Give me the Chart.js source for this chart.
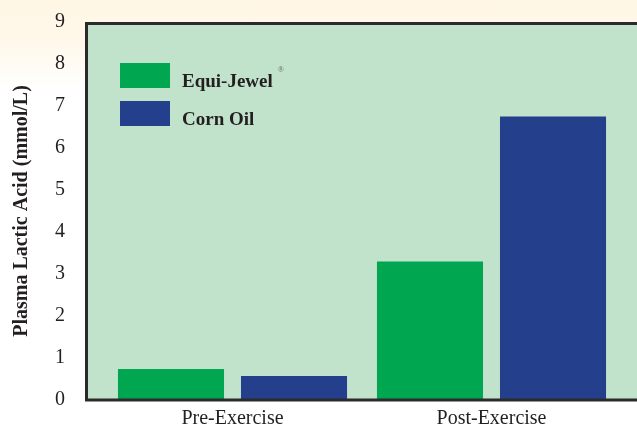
<!DOCTYPE html>
<html>
<head>
<meta charset="utf-8">
<script src="https://cdn.jsdelivr.net/npm/chart.js@4"></script>
<style>
  html, body { margin: 0; padding: 0; }
  body {
    width: 637px; height: 425px; overflow: hidden;
    background: linear-gradient(to bottom, #fff6e4 0px, #fff8ea 40px, #ffffff 90px);
  }
  canvas { display: block; }
</style>
</head>
<body>
<canvas id="myChart" width="637" height="425"></canvas>
<script>
// chart data
const categories = ['Pre-Exercise', 'Post-Exercise'];
const equiJewel = [0.74, 3.3];
const cornOil = [0.57, 6.75];
const seriesLabels = ['Equi-Jewel®', 'Corn Oil'];
const yTicks = [0, 1, 2, 3, 4, 5, 6, 7, 8, 9];

const textColor = '#231f20';
const serif = "'Liberation Serif', 'DejaVu Serif', serif";

// green panel + dark frame behind the bars
const panelPlugin = {
    id: 'panel',
    beforeDatasetsDraw(chart) {
        const c = chart.ctx;
        const area = chart.chartArea;
        const left = 85;
        const right = chart.width;
        c.save();
        c.fillStyle = '#c1e2cb';
        c.fillRect(left, area.top, right - left, area.bottom - area.top);
        c.restore();
    },
    afterDatasetsDraw(chart) {
        const c = chart.ctx;
        const area = chart.chartArea;
        const left = 86.5;
        const right = chart.width;
        c.save();
        c.strokeStyle = '#2b2b2b';
        c.lineWidth = 3;
        c.beginPath();
        c.moveTo(right, area.top + 1.5);
        c.lineTo(left, area.top + 1.5);
        c.lineTo(left, area.bottom);
        c.lineTo(right, area.bottom);
        c.stroke();
        c.restore();
    }
};

// legend inside the panel
const legendPlugin = {
    id: 'innerLegend',
    afterDraw(chart) {
        const c = chart.ctx;
        c.save();
        chart.data.datasets.forEach((ds, i) => {
            const y = 63 + i * 38;
            c.fillStyle = ds.backgroundColor;
            c.fillRect(120, y, 50, 25);
            let label = ds.label;
            let mark = '';
            if (label.endsWith('®')) { mark = '®'; label = label.slice(0, -1); }
            c.fillStyle = textColor;
            c.font = 'bold 19px ' + serif;
            c.textBaseline = 'alphabetic';
            c.fillText(label, 182, y + 24);
            if (mark) {
                const w = c.measureText(label).width;
                c.font = '8px ' + serif;
                c.fillStyle = '#666';
                c.fillText(mark, 182 + w + 5, y + 9);
            }
        });
        c.restore();
    }
};

const ctx = document.getElementById('myChart').getContext('2d');
const myChart = new Chart(ctx, {
    type: 'bar',
    data: {
        labels: categories,
        datasets: [
            { label: seriesLabels[0], data: equiJewel, backgroundColor: '#00a650' },
            { label: seriesLabels[1], data: cornOil, backgroundColor: '#243f8c' }
        ]
    },
    options: {
        responsive: false,
        animation: false,
        devicePixelRatio: 1,
        layout: { padding: { top: 22, right: 16, bottom: 0, left: 0 } },
        categoryPercentage: 0.95,
        barPercentage: 0.862,
        plugins: {
            legend: { display: false },
            tooltip: { enabled: false }
        },
        scales: {
            x: {
                grid: { display: false },
                border: { display: false },
                ticks: { color: textColor, font: { family: serif, size: 20 }, padding: -1 },
                afterFit: s => { s.height = 25; }
            },
            y: {
                min: 0,
                max: 9,
                afterBuildTicks: s => { s.ticks = yTicks.map(v => ({ value: v })); },
                grid: { display: false },
                border: { display: false },
                ticks: { color: textColor, font: { family: serif, size: 20 }, padding: 30 },
                title: {
                    display: true,
                    text: 'Plasma Lactic Acid (mmol/L)',
                    color: textColor,
                    font: { family: serif, size: 20, weight: 'bold' },
                    padding: { top: 10, bottom: 0 }
                },
                afterFit: s => {
                    s.width = 103;
                    // tick padding would otherwise be added above and below the axis
                    s.paddingTop = 0;
                    s.paddingBottom = 0;
                }
            }
        }
    },
    plugins: [panelPlugin, legendPlugin]
});
</script>
</body>
</html>
